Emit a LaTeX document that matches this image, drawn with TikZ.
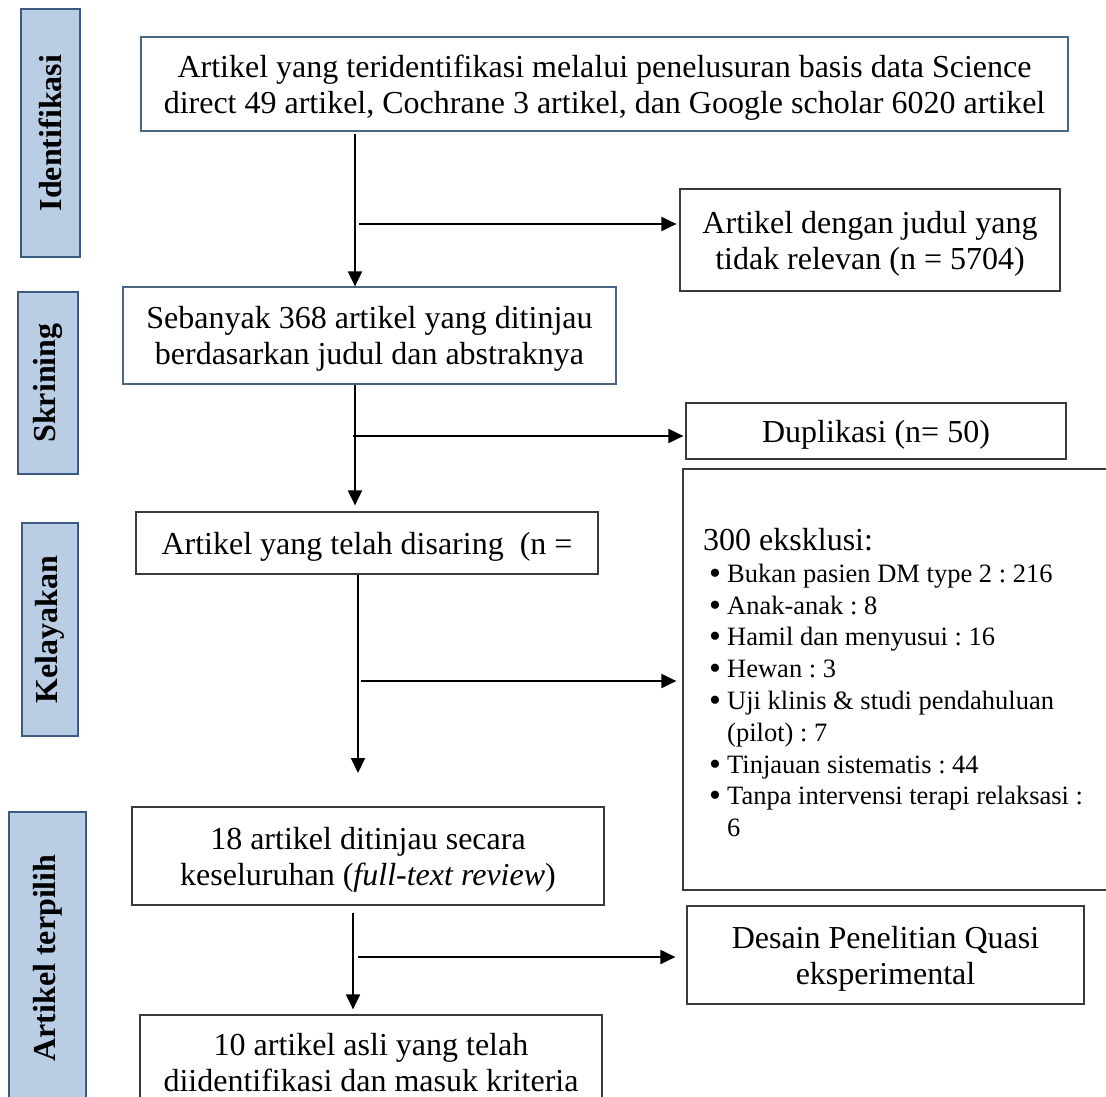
\documentclass[tikz,border=0pt]{standalone}
\usepackage{fontspec}
\setmainfont{Liberation Serif}
\usepackage{graphicx}
\usetikzlibrary{arrows.meta}
\definecolor{lblfill}{HTML}{B9CDE5}
\definecolor{lbldraw}{HTML}{3D5A80}
\definecolor{bluedraw}{HTML}{4A6484}
\definecolor{greydraw}{HTML}{3A3A3A}
\newcommand\exbul{\makebox[24pt][l]{\hspace{6pt}\smash{\raisebox{-2pt}{\fontsize{34}{34}\selectfont\textbullet}}}}
\newcommand\exind{\hspace*{24pt}}
\frenchspacing
\begin{document}
\frenchspacing
\begin{tikzpicture}[x=1pt,y=1pt,
  box/.style={draw=greydraw, line width=1.2pt, fill=white, inner sep=0pt, align=center, text depth=0pt, font=\fontsize{32}{36}\selectfont},
  bbox/.style={box, draw=bluedraw},
  phase/.style={draw=lbldraw, line width=1.2pt, fill=lblfill, inner sep=0pt, font=\fontsize{32}{36}\selectfont\bfseries},
  arr/.style={line width=2pt, -{Triangle[length=15pt,width=14pt]}}
]
\useasboundingbox (0,0) rectangle (1106,-1097);
\clip (0,0) rectangle (1106,-1097);

% phase labels
\node[phase, minimum width=59pt, minimum height=248pt] (p1) at (50.5,-133) {\rotatebox{90}{Identifikasi}};
\node[phase, minimum width=60pt, minimum height=182pt] (p2) at (48,-383) {\rotatebox{90}{Skrining}};
\node[phase, minimum width=56pt, minimum height=213pt] (p3) at (50,-629.5) {\rotatebox{90}{Kelayakan}};
\node[phase, minimum width=77pt, minimum height=292pt] (p4) at (47.5,-958) {\rotatebox{90}{Artikel terpilih}};

% main column
\node[bbox, minimum width=927pt, minimum height=94pt] (b1) at (604.5,-84)
  {Artikel yang teridentifikasi melalui penelusuran basis data Science\\direct 49 artikel, Cochrane 3 artikel, dan Google scholar 6020 artikel};
\node[bbox, minimum width=493pt, minimum height=97pt] (b2) at (369.5,-335.5)
  {Sebanyak 368 artikel yang ditinjau\\berdasarkan judul dan abstraknya};
\node[box, minimum width=462pt, minimum height=62pt] (b3) at (367,-543)
  {Artikel yang telah disaring\ \ (n =};
\node[box, minimum width=472pt, minimum height=98pt] (b4) at (368,-856)
  {18 artikel ditinjau secara\\keseluruhan (\textit{full-text review})};
\node[box, minimum width=462pt, minimum height=94pt] (b5) at (371,-1062)
  {10 artikel asli yang telah\\diidentifikasi dan masuk kriteria};

% side boxes
\node[box, minimum width=380pt, minimum height=102pt] (r1) at (870,-240)
  {Artikel dengan judul yang\\tidak relevan (n = 5704)};
\node[box, minimum width=380pt, minimum height=56pt] (r2) at (876,-431)
  {Duplikasi (n= 50)};
\node[box, minimum width=437pt, minimum height=421pt] (ex) at (901.5,-679.5) {};
\node[anchor=north west, inner sep=0pt, align=left, font=\fontsize{26.5}{31.8}\selectfont] (extxt) at (703,-528)
  {{\fontsize{32}{31.8}\selectfont 300 eksklusi:}\\
   \exbul Bukan pasien DM type 2 : 216\\
   \exbul Anak-anak : 8\\
   \exbul Hamil dan menyusui : 16\\
   \exbul Hewan : 3\\
   \exbul Uji klinis \& studi pendahuluan\\
   \exind (pilot) : 7\\
   \exbul Tinjauan sistematis : 44\\
   \exbul Tanpa intervensi terapi relaksasi :\\
   \exind 6};
\node[box, minimum width=397pt, minimum height=98pt] (r3) at (885.5,-955)
  {Desain Penelitian Quasi\\eksperimental};

% connector coordinates
\coordinate (v1) at (355,0);
\coordinate (v3) at (358,0);
\coordinate (v4) at (353,0);
\coordinate (h1) at (359,-224);
\coordinate (h2) at (353,-436);
\coordinate (h3) at (361,-681);
\coordinate (h4) at (358,-957);
\coordinate (e3) at (358,-773);

% connectors
\draw[arr, shorten <=2pt] (b1.south -| v1) -- (b2.north -| v1);
\draw[arr, shorten >=3pt] (h1) -- (h1 -| r1.west);
\draw[arr, shorten >=6pt] (b2.south -| v1) -- (b3.north -| v1);
\draw[arr, shorten >=2pt] (h2) -- (h2 -| r2.west);
\draw[arr] (b3.south -| v3) -- (e3);
\draw[arr, shorten >=6pt] (h3) -- (h3 -| ex.west);
\draw[arr, shorten <=7pt, shorten >=5pt] (b4.south -| v4) -- (b5.north -| v4);
\draw[arr, shorten >=11pt] (h4) -- (h4 -| r3.west);
\end{tikzpicture}
\end{document}
